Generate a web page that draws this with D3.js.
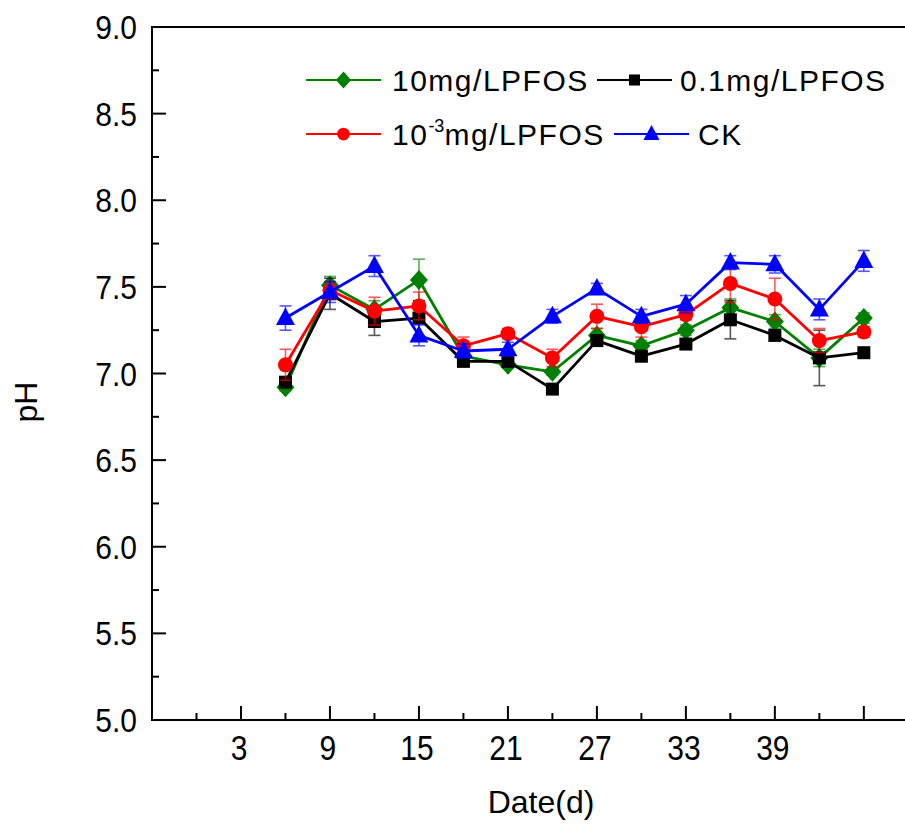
<!DOCTYPE html>
<html>
<head>
<meta charset="utf-8">
<script src="https://cdn.jsdelivr.net/npm/d3@7"></script>
<style>
  html, body { margin: 0; padding: 0; background: #fff; }
  svg { display: block; font-family: "Liberation Sans", Arial, sans-serif; }
</style>
</head>
<body>
<svg id="chart" width="905" height="832"></svg>
<script>
// ---- data ----
const days = [6, 9, 12, 15, 18, 21, 24, 27, 30, 33, 36, 39, 42, 45];
const ph10mg   = [6.92, 7.51, 7.37, 7.54, 7.10, 7.05, 7.01, 7.22, 7.16, 7.25, 7.38, 7.30, 7.09, 7.32];
const ph01mg   = [6.95, 7.46, 7.30, 7.32, 7.07, 7.07, 6.91, 7.19, 7.10, 7.17, 7.31, 7.22, 7.09, 7.12];
const ph1e3mg  = [7.05, 7.48, 7.36, 7.39, 7.16, 7.23, 7.09, 7.33, 7.27, 7.34, 7.52, 7.43, 7.19, 7.24];
const phCK     = [7.32, 7.47, 7.62, 7.22, 7.13, 7.14, 7.33, 7.49, 7.33, 7.40, 7.64, 7.63, 7.37, 7.65];
const err10mg  = [0.02, 0.05, 0.05, 0.12, 0.03, 0.02, 0.02, 0.04, 0.03, 0.03, 0.05, 0.04, 0.05, 0.03];
const err01mg  = [0.03, 0.09, 0.08, 0.10, 0.02, 0.02, 0.02, 0.03, 0.03, 0.03, 0.11, 0.03, 0.16, 0.02];
const err1e3mg = [0.09, 0.05, 0.08, 0.08, 0.05, 0.03, 0.05, 0.07, 0.06, 0.03, 0.11, 0.12, 0.07, 0.03];
const errCK    = [0.07, 0.06, 0.06, 0.06, 0.04, 0.04, 0.04, 0.03, 0.04, 0.05, 0.04, 0.05, 0.06, 0.06];
const xMajorTicks = [3, 9, 15, 21, 27, 33, 39, 45];
const xTickLabels = ["3", "9", "15", "21", "27", "33", "39", ""];
const xMinorTicks = [0, 6, 12, 18, 24, 30, 36, 42];
const yMajorTicks = [5.0, 5.5, 6.0, 6.5, 7.0, 7.5, 8.0, 8.5, 9.0];
const yMinorTicks = [5.25, 5.75, 6.25, 6.75, 7.25, 7.75, 8.25, 8.75];
const xDomain = [-3, 48];
const yDomain = [5, 9];
const xTitle = "Date(d)";
const yTitle = "pH";

const series = [
  { name: "10mg/LPFOS", values: ph10mg, errors: err10mg, color: "#008000", symbol: "diamond" },
  { name: "0.1mg/LPFOS", values: ph01mg, errors: err01mg, color: "#000000", symbol: "square" },
  { name: "10-3mg/LPFOS", values: ph1e3mg, errors: err1e3mg, color: "#ff0000", symbol: "circle" },
  { name: "CK", values: phCK, errors: errCK, color: "#0000ff", symbol: "triangle" }
];

// ---- layout ----
const svg = d3.select("#chart");
svg.append("rect").attr("width", 905).attr("height", 832).attr("fill", "#fff");

const pLeft = 152, pTop = 27, pBottom = 720;
const x = d3.scaleLinear().domain(xDomain).range([pLeft, pLeft + 51 * 14.83]);
const y = d3.scaleLinear().domain(yDomain).range([pBottom, pTop]);

// ---- axes ----
const axisG = svg.append("g");
axisG.append("line").attr("x1", pLeft).attr("x2", pLeft).attr("y1", pTop - 1).attr("y2", pBottom + 1)
  .attr("stroke", "#000").attr("stroke-width", 2);
axisG.append("line").attr("x1", pLeft - 1).attr("x2", 905).attr("y1", pBottom).attr("y2", pBottom)
  .attr("stroke", "#000").attr("stroke-width", 2);
axisG.append("line").attr("x1", pLeft - 1).attr("x2", 905).attr("y1", pTop).attr("y2", pTop)
  .attr("stroke", "#000").attr("stroke-width", 2);

// x ticks (inward)
axisG.selectAll(".xmaj").data(xMajorTicks).enter().append("line")
  .attr("x1", d => x(d)).attr("x2", d => x(d)).attr("y1", pBottom).attr("y2", pBottom - 14)
  .attr("stroke", "#000").attr("stroke-width", 2);
axisG.selectAll(".xmin").data(xMinorTicks).enter().append("line")
  .attr("x1", d => x(d)).attr("x2", d => x(d)).attr("y1", pBottom).attr("y2", pBottom - 7)
  .attr("stroke", "#000").attr("stroke-width", 2);
axisG.selectAll(".xlab").data(xMajorTicks).enter().append("text")
  .attr("transform", d => `translate(${x(d) - 2},${pBottom + 40}) scale(1,1.18)`)
  .attr("text-anchor", "middle").attr("font-size", 30).attr("fill", "#000")
  .text((d, i) => xTickLabels[i]);

// y ticks (inward)
axisG.selectAll(".ymaj").data(yMajorTicks).enter().append("line")
  .attr("x1", pLeft).attr("x2", pLeft + 14).attr("y1", d => y(d)).attr("y2", d => y(d))
  .attr("stroke", "#000").attr("stroke-width", 2);
axisG.selectAll(".ymin").data(yMinorTicks).enter().append("line")
  .attr("x1", pLeft).attr("x2", pLeft + 7).attr("y1", d => y(d)).attr("y2", d => y(d))
  .attr("stroke", "#000").attr("stroke-width", 2);
axisG.selectAll(".ylab").data(yMajorTicks).enter().append("text")
  .attr("transform", d => `translate(${pLeft - 15},${y(d) + 12}) scale(1,1.08)`)
  .attr("text-anchor", "end").attr("font-size", 30).attr("fill", "#000")
  .text(d => d.toFixed(1));

// titles
svg.append("text").attr("x", 541).attr("y", 813).attr("text-anchor", "middle")
  .attr("font-size", 32).attr("fill", "#000").text(xTitle);
svg.append("text").attr("transform", "translate(37,402) rotate(-90)").attr("text-anchor", "middle")
  .attr("font-size", 32).attr("fill", "#000").text(yTitle);

// ---- symbols ----
function drawSymbol(g, type, cx, cy, color, s) {
  s = s || 1;
  if (type === "diamond") {
    g.append("path").attr("d", `M${cx},${cy - 10 * s}L${cx + 9 * s},${cy}L${cx},${cy + 10 * s}L${cx - 9 * s},${cy}Z`).attr("fill", color);
  } else if (type === "square") {
    g.append("rect").attr("x", cx - 6.5 * s).attr("y", cy - 6.5 * s).attr("width", 13 * s).attr("height", 13 * s).attr("fill", color);
  } else if (type === "circle") {
    g.append("circle").attr("cx", cx).attr("cy", cy).attr("r", 7.5 * s).attr("fill", color);
  } else if (type === "triangle") {
    g.append("path").attr("d", `M${cx},${cy - 10.5 * s}L${cx + 9.5 * s},${cy + 7 * s}L${cx - 9.5 * s},${cy + 7 * s}Z`).attr("fill", color);
  }
}

// ---- series ----
const line = d3.line().x((d, i) => x(days[i])).y(d => y(d));
const plot = svg.append("g");
series.forEach(s => {
  const g = plot.append("g");
  g.append("path").datum(s.values).attr("d", line).attr("fill", "none")
    .attr("stroke", s.color).attr("stroke-width", 2.8).attr("stroke-linejoin", "round");
  s.values.forEach((v, i) => drawSymbol(g, s.symbol, x(days[i]), y(v), s.color, 1));
  const eg = g.append("g").attr("stroke", s.color).attr("stroke-width", 1.6).attr("opacity", 0.65);
  s.values.forEach((v, i) => {
    const cx = x(days[i]), e = s.errors[i];
    eg.append("line").attr("x1", cx).attr("x2", cx).attr("y1", y(v + e)).attr("y2", y(v - e));
    eg.append("line").attr("x1", cx - 6).attr("x2", cx + 6).attr("y1", y(v + e)).attr("y2", y(v + e));
    eg.append("line").attr("x1", cx - 6).attr("x2", cx + 6).attr("y1", y(v - e)).attr("y2", y(v - e));
  });
});

// ---- legend ----
const legendItems = [
  { s: series[0], lx: 306, ly: 80, tx: 392 },
  { s: series[1], lx: 597, ly: 80, tx: 680 },
  { s: series[2], lx: 306, ly: 134, tx: 392 },
  { s: series[3], lx: 614, ly: 134, tx: 698 }
];
const lg = svg.append("g");
legendItems.forEach(it => {
  lg.append("line").attr("x1", it.lx).attr("x2", it.lx + 75).attr("y1", it.ly).attr("y2", it.ly)
    .attr("stroke", it.s.color).attr("stroke-width", 2);
  drawSymbol(lg, it.s.symbol, it.lx + 37.5, it.ly, it.s.color, 0.85);
  const t = lg.append("text").attr("x", it.tx).attr("y", it.ly + 11).attr("font-size", 30)
    .attr("letter-spacing", 1.5).attr("fill", "#000");
  if (it.s.name === "10-3mg/LPFOS") {
    t.append("tspan").text("10");
    t.append("tspan").attr("dy", -13).attr("font-size", 18).attr("letter-spacing", 0).text("-3");
    t.append("tspan").attr("dy", 13).text("mg/LPFOS");
  } else {
    t.text(it.s.name);
  }
});
</script>
</body>
</html>
